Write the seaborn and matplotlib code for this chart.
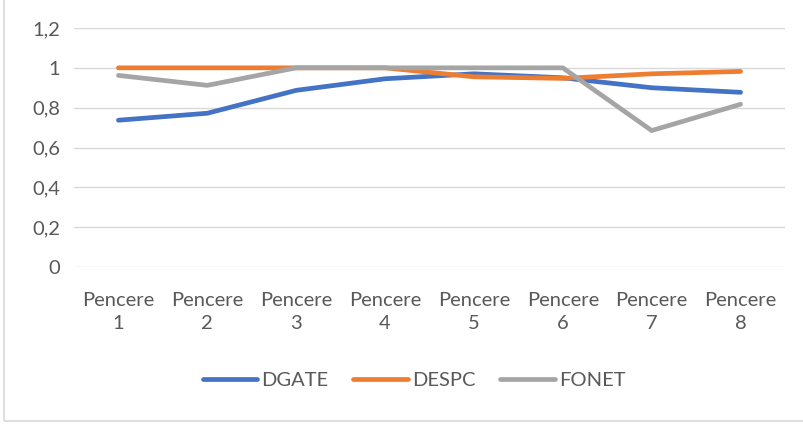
import matplotlib
matplotlib.use("Agg")
import matplotlib.pyplot as plt
import matplotlib.patches as mpatches
import pandas as pd
import seaborn as sns

categories = ["Pencere\n1", "Pencere\n2", "Pencere\n3", "Pencere\n4",
              "Pencere\n5", "Pencere\n6", "Pencere\n7", "Pencere\n8"]
dgate = [0.737, 0.772, 0.887, 0.945, 0.97, 0.95, 0.90, 0.877]
despc = [1.0, 1.0, 1.0, 1.0, 0.955, 0.947, 0.97, 0.982]
fonet = [0.962, 0.912, 1.0, 1.0, 1.0, 1.0, 0.685, 0.817]
series_names = ["DGATE", "DESPC", "FONET"]
yticks = [0, 0.2, 0.4, 0.6, 0.8, 1.0, 1.2]
ytick_labels = ["0", "0,2", "0,4", "0,6", "0,8", "1", "1,2"]

colors = {"DGATE": "#4472C4", "DESPC": "#ED7D31", "FONET": "#A5A5A5"}

rows = []
for name, vals in zip(series_names, [dgate, despc, fonet]):
    for i, v in enumerate(vals):
        rows.append({"pos": i, "value": v, "series": name})
df = pd.DataFrame(rows)

sns.set_style("white")
plt.rcParams["font.family"] = ["Lato", "DejaVu Sans"]

FS = 14.5
LW = 3.4

fig = plt.figure(figsize=(8.04, 4.25), dpi=100)
ax = fig.add_axes([74 / 804, (425 - 267) / 425, 711 / 804, (267 - 28) / 425])

sns.lineplot(data=df, x="pos", y="value", hue="series", hue_order=series_names,
             palette=colors, linewidth=LW, sort=False, ax=ax, legend=False,
             solid_capstyle="round", solid_joinstyle="round")

ax.set_xlim(-0.5, 7.5)
ax.set_ylim(0, 1.2)
ax.set_yticks(yticks)
ax.set_yticklabels(ytick_labels)
ax.set_xticks(range(len(categories)))
ax.set_xticklabels(categories, linespacing=1.45)
ax.yaxis.grid(True, color="#D9D9D9", linewidth=1.0)
ax.set_axisbelow(True)
for s in ax.spines.values():
    s.set_visible(False)
ax.tick_params(axis="both", length=0, labelsize=FS, colors="#595959")
ax.tick_params(axis="y", pad=10)
ax.tick_params(axis="x", pad=18)
ax.set_xlabel("")
ax.set_ylabel("")

handles = [plt.Line2D([0], [0], color=colors[n], linewidth=LW,
                      solid_capstyle="round") for n in series_names]
fig.legend(handles, series_names, loc="center", bbox_to_anchor=(0.515, (425 - 380) / 425),
           ncol=3, frameon=False, fontsize=FS, handlelength=2.7,
           handletextpad=0.2, columnspacing=1.25, labelcolor="#595959")

# outer chart frame
fig.patches.append(mpatches.Rectangle((4 / 804, 4 / 425), 1.0, 1.0, transform=fig.transFigure,
                                      fill=False, edgecolor="#D9D9D9", linewidth=1.2))

fig.savefig("out.png", dpi=100, facecolor="white")
